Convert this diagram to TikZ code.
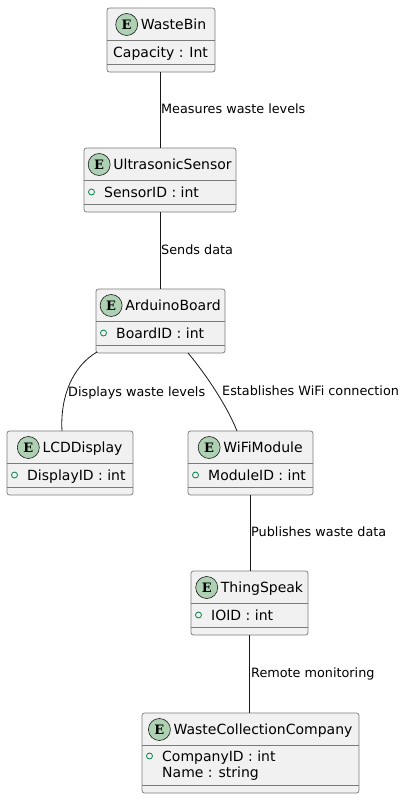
\documentclass[tikz,border=0pt]{standalone}
\usepackage{fontspec}
\setmainfont{DejaVu Sans}
\newfontfamily\iconfont{DejaVu Serif}
\usetikzlibrary{calc}
\definecolor{boxfill}{HTML}{F1F1F1}
\definecolor{boxline}{HTML}{181818}
\definecolor{boxedge}{HTML}{7A7A7A}
\definecolor{iconfill}{HTML}{ADD1B2}
\definecolor{attrgreen}{HTML}{038048}
\tikzset{
 ebox/.style={draw=boxedge, fill=boxfill, line width=0.7pt, rounded corners=2.5pt, inner sep=0pt, outer sep=0pt},
 sepline/.style={draw=boxedge, line width=0.7pt},
 eicon/.style={circle, draw=boxline, fill=iconfill, line width=0.6pt, minimum size=22pt, inner sep=0pt, font=\iconfont\bfseries\fontsize{13}{13}\selectfont},
 etitle/.style={inner sep=0pt, text height=10.2pt, text depth=0pt, font=\fontsize{14}{16}\selectfont},
 eattr/.style={inner sep=0pt, anchor=west, text height=10.2pt, text depth=0pt, font=\fontsize{14}{16}\selectfont},
 vis/.style={circle, draw=attrgreen, line width=0.8pt, minimum size=6pt, inner sep=0pt},
 link/.style={draw=boxline, line width=0.8pt},
 elabel/.style={inner sep=0pt, anchor=west, text height=9.4pt, text depth=0pt, font=\fontsize{12.8}{15}\selectfont},
}
% #1 name, #2 left, #3 top, #4 width, #5 height, #6 title
\newcommand\entitybox[6]{%
 \node[ebox, anchor=north west, minimum width=#4pt, minimum height=#5pt] (#1) at (#2,#3) {};
 \draw[sepline] ([yshift=-32pt]#1.north west) -- ([yshift=-32pt]#1.north east);
 \draw[sepline] ([yshift=8pt]#1.south west) -- ([yshift=8pt]#1.south east);
 \node[etitle] (#1-title) at ([xshift=12.5pt,yshift=-16.5pt]#1.north) {#6};
 \node[eicon] (#1-icon) at ([xshift=-14pt]#1-title.west) {E};
}
\begin{document}
\begin{tikzpicture}[x=1pt,y=-1pt]
\useasboundingbox (0,0) rectangle (405,798);
% boxes
\entitybox{wb}{107}{8}{108}{64}{WasteBin}
\node[eattr] (wb-a1) at ([xshift=6pt,yshift=-44pt]wb.north west) {Capacity : Int};

\entitybox{us}{84}{148}{152}{64}{UltrasonicSensor}
\node[vis] (us-v1) at ([xshift=7.5pt,yshift=-44pt]us.north west) {};
\node[eattr] (us-a1) at ([xshift=20pt,yshift=-44pt]us.north west) {SensorID : int};

\entitybox{ab}{96}{289}{129}{64}{ArduinoBoard}
\node[vis] (ab-v1) at ([xshift=7.5pt,yshift=-44pt]ab.north west) {};
\node[eattr] (ab-a1) at ([xshift=20pt,yshift=-44pt]ab.north west) {BoardID : int};

\entitybox{lcd}{7}{431}{126}{64}{LCDDisplay}
\node[vis] (lcd-v1) at ([xshift=7.5pt,yshift=-44pt]lcd.north west) {};
\node[eattr] (lcd-a1) at ([xshift=20pt,yshift=-44pt]lcd.north west) {DisplayID : int};

\entitybox{wifi}{188}{431}{125}{64}{WiFiModule}
\node[vis] (wifi-v1) at ([xshift=7.5pt,yshift=-44pt]wifi.north west) {};
\node[eattr] (wifi-a1) at ([xshift=20pt,yshift=-44pt]wifi.north west) {ModuleID : int};

\entitybox{ts}{191}{571}{117}{64}{ThingSpeak}
\node[vis] (ts-v1) at ([xshift=7.5pt,yshift=-44pt]ts.north west) {};
\node[eattr] (ts-a1) at ([xshift=20pt,yshift=-44pt]ts.north west) {IOID : int};

\entitybox{wcc}{142}{713}{217}{80}{WasteCollectionCompany}
\node[vis] (wcc-v1) at ([xshift=7.5pt,yshift=-43pt]wcc.north west) {};
\node[eattr] (wcc-a1) at ([xshift=20pt,yshift=-43pt]wcc.north west) {CompanyID : int};
\node[eattr] (wcc-a2) at ([xshift=20pt,yshift=-59pt]wcc.north west) {Name : string};

% connectors
\draw[link] ([xshift=-1pt]wb.south) -- ([xshift=-1pt]us.north -| wb.south);
\node[elabel] (l1) at (161,109) {Measures waste levels};
\draw[link] (us.south) -- (us.south |- ab.north);
\node[elabel] (l2) at (161,250) {Sends data};
\coordinate (ab-l) at ([xshift=1pt,yshift=1pt]ab.south west);
\coordinate (lcd-t) at ([xshift=-8pt]lcd.north);
\draw[link] (ab-l) .. controls ([xshift=-24pt,yshift=-14pt]ab-l) and ([xshift=-2pt,yshift=35pt]lcd-t) .. (lcd-t);
\node[elabel] (l3) at (68,392) {Displays waste levels};
\coordinate (ab-r) at ([xshift=-37pt]ab.south east);
\coordinate (wifi-t) at ([xshift=-13.5pt]wifi.north);
\draw[link] (ab-r) .. controls ([xshift=12pt,yshift=-14pt]ab-r) and ([xshift=-12pt,yshift=30pt]wifi-t) .. (wifi-t);
\node[elabel] (l4) at (222,391) {Establishes WiFi connection};
\draw[link] ([xshift=-0.5pt]wifi.south) -- ([xshift=-0.5pt]wifi.south |- ts.north);
\node[elabel] (l5) at (251,532) {Publishes waste data};
\draw[link] (ts.south) -- (ts.south |- wcc.north);
\node[elabel] (l6) at (251,673) {Remote monitoring};
\end{tikzpicture}
\end{document}
